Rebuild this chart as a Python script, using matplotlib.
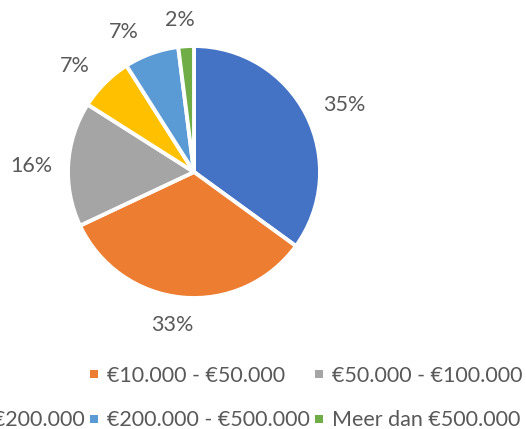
import matplotlib
matplotlib.use('Agg')
import matplotlib.pyplot as plt
import numpy as np
from matplotlib.patches import Rectangle

# income classes and their share of the total (%)
categories = ['Tot €10.000', '€10.000 - €50.000', '€50.000 - €100.000',
              '€100.000 - €200.000', '€200.000 - €500.000', 'Meer dan €500.000']
shares = [35, 33, 16, 7, 7, 2]
colors = ['#4472C4', '#ED7D31', '#A5A5A5', '#FFC000', '#5B9BD5', '#70AD47']

W, H = 526, 429
TEXT = '#595959'
plt.rcParams['font.family'] = ['Lato', 'DejaVu Sans']

fig = plt.figure(figsize=(W / 100, H / 100), dpi=100)

# pie centre and radius in pixels (y from the top)
cx, cy, r = 194, 172, 126
ax = fig.add_axes([(cx - r) / W, (H - cy - r) / H, 2 * r / W, 2 * r / H])
wedges, _ = ax.pie(shares, colors=colors, startangle=90, counterclock=False,
                   radius=1, wedgeprops=dict(edgecolor='white', linewidth=2.8))
ax.set_xlim(-1, 1)
ax.set_ylim(-1, 1)
ax.set_aspect('equal')
ax.axis('off')

# data labels, "outside end" style: box edge sits a fixed gap off the rim
# small angle nudges mimic Excel shifting crowded labels apart
nudge = [-3, -2.8, 1.5, 3.4, 6.9, 1.7]
fig.canvas.draw()
renderer = fig.canvas.get_renderer()
gap = 15.5
for w, v, dn in zip(wedges, shares, nudge):
    theta = np.deg2rad((w.theta1 + w.theta2) / 2 + dn)
    t = ax.text(0, 0, f'{v}%', ha='center', va='center', fontsize=15.5,
                color=TEXT, clip_on=False)
    bb = t.get_window_extent(renderer)
    d = r + gap + abs(np.cos(theta)) * bb.width / 2 + abs(np.sin(theta)) * bb.height / 2
    t.set_position((d / r * np.cos(theta), d / r * np.sin(theta)))

# legend: 3-column grid, row-major; the first entry falls left of the
# visible area in the reference, so it is not drawn
col_w, x0, y0, row_h, box = 225, -135, 374, 45, 8
for i, (lab, c) in enumerate(zip(categories, colors)):
    if i == 0:
        continue
    row, col = divmod(i, 3)
    mx = x0 + col * col_w
    my = y0 + row * row_h
    fig.add_artist(Rectangle((mx / W, 1 - (my + box / 2) / H), box / W, box / H,
                             transform=fig.transFigure, facecolor=c, edgecolor='none'))
    fig.text((mx + 17) / W, 1 - (my + 7.5) / H, lab, ha='left', va='baseline',
             fontsize=15.5, color=TEXT)

fig.savefig('out.png', dpi=100)
